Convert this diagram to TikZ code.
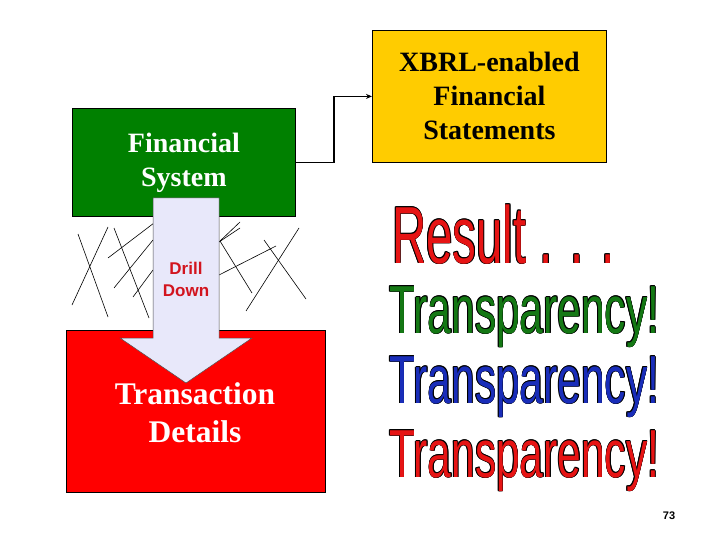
\documentclass[tikz,border=0pt]{standalone}
\usepackage{fontspec}
\setmainfont{Liberation Serif}
\newfontfamily\arialfont{Liberation Sans}
\usetikzlibrary{arrows.meta}
\definecolor{boxgreen}{RGB}{0,128,0}
\definecolor{boxyellow}{RGB}{255,204,0}
\definecolor{boxred}{RGB}{255,0,0}
\definecolor{lavender}{RGB}{232,232,250}
\definecolor{wared}{RGB}{230,20,20}
\definecolor{wagreen}{RGB}{20,120,20}
\definecolor{wablue}{RGB}{25,45,185}
\definecolor{drillred}{RGB}{210,20,30}
\newcommand\wacopy[3]{\makebox[0pt][l]{\hspace*{#1}\raisebox{#2}{\color{black}#3}}}
\newcommand\outlined[1]{%
  \wacopy{1.1pt}{0pt}{#1}\wacopy{-1.1pt}{0pt}{#1}%
  \wacopy{0pt}{0.65pt}{#1}\wacopy{0pt}{-0.65pt}{#1}%
  \wacopy{0.8pt}{0.46pt}{#1}\wacopy{-0.8pt}{0.46pt}{#1}%
  \wacopy{0.8pt}{-0.46pt}{#1}\wacopy{-0.8pt}{-0.46pt}{#1}%
  #1}
\tikzset{
  box/.style={draw=black, line width=0.8pt, anchor=north west, inner sep=0pt,
    align=center, text=white, font=\fontsize{28}{34}\selectfont\bfseries},
  cross/.style={draw=black, line width=0.6pt},
  wordart/.style={anchor=base west, inner sep=0pt},
}
\begin{document}
\begin{tikzpicture}[x=1pt,y=-1pt]
\useasboundingbox (0,0) rectangle (720,540);
% boxes
\node[box, fill=boxgreen, minimum width=223pt, minimum height=108pt] (fin) at (72,108) {Financial\\System};
\node[box, fill=boxyellow, text=black, minimum width=234pt, minimum height=132pt] (xbrl) at (372,30) {XBRL-enabled\\Financial\\Statements};
\node[box, fill=boxred, minimum width=259pt, minimum height=162pt] (trans) at (66,330) {};
\node[text=white, font=\fontsize{31.5}{38}\selectfont\bfseries, align=center] (translbl) at (195,413) {Transaction\\Details};
% connector
\draw[line width=1.6pt, -{Stealth[length=6pt,width=5pt]}] (fin.east) -- ++(38,0) |- (xbrl.west);
% cross lines
\draw[cross] (78,234) -- (108,317);
\draw[cross] (108,227) -- (72,305);
\draw[cross] (114,228) -- (149,318);
\draw[cross] (108,258) -- (154,223);
\draw[cross] (114,288) -- (153,240);
\draw[cross] (133,297) -- (153,270);
\draw[cross] (219,242) -- (240,222);
\draw[cross] (219,242) -- (240,228);
\draw[cross] (220,241) -- (252,293);
\draw[cross] (219,275) -- (276,246);
\draw[cross] (264,240) -- (306,299);
\draw[cross] (299,228) -- (246,311);
% drill-down arrow
\draw[fill=lavender, draw=black!70, line width=0.5pt]
  (153,198) -- (219,198) -- (219,338) -- (252,338) -- (186,383) -- (120,338) -- (153,338) -- cycle;
\node[text=drillred, font=\arialfont\fontsize{17}{22}\selectfont\bfseries, align=center] (drill) at (186,279) {Drill\\Down};
% word art
\node[wordart, text=wared] (result) at (392,263) {\scalebox{0.585}[1]{\fontsize{81}{81}\arialfont\selectfont\outlined{Result . . .}}};
\node[wordart, text=wagreen] (tr1) at (389,333) {\scalebox{0.625}[1]{\fontsize{68}{68}\arialfont\selectfont\outlined{Transparency!}}};
\node[wordart, text=wablue] (tr2) at (389,403) {\scalebox{0.625}[1]{\fontsize{68}{68}\arialfont\selectfont\outlined{Transparency!}}};
\node[wordart, text=wared] (tr3) at (389,477) {\scalebox{0.625}[1]{\fontsize{68}{68}\arialfont\selectfont\outlined{Transparency!}}};
% page number
\node[font=\arialfont\fontsize{11}{13}\selectfont\bfseries] (pg) at (669,516) {73};
\end{tikzpicture}
\end{document}
